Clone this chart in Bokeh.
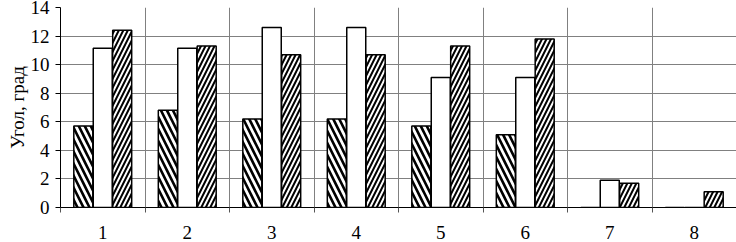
from bokeh.plotting import figure
from bokeh.models import FixedTicker, ColumnDataSource
from bokeh.transform import dodge
from bokeh.embed import file_html
from bokeh.resources import INLINE

categories = ["1", "2", "3", "4", "5", "6", "7", "8"]
series_a = [5.7, 6.8, 6.2, 6.2, 5.7, 5.1, 0, 0]
series_b = [11.15, 11.15, 12.6, 12.6, 9.1, 9.1, 1.9, 0]
series_c = [12.4, 11.3, 10.7, 10.7, 11.3, 11.8, 1.7, 1.1]
y_ticks = [0, 2, 4, 6, 8, 10, 12, 14]

xpos = [i + 1 for i in range(len(categories))]
src = ColumnDataSource(dict(x=xpos, a=series_a, b=series_b, c=series_c))

FONT = "Liberation Serif"
p = figure(width=736, height=242, output_backend="svg", toolbar_location=None,
           x_range=(0.5, len(categories) + 0.5), y_range=(0, 14))
p.min_border_left = 60
p.min_border_right = 0
p.min_border_top = 7
p.min_border_bottom = 35
p.outline_line_color = None
p.background_fill_color = "white"

W = 0.225
OFF = 0.23
p.vbar(x=dodge("x", -OFF), top="a", width=W, source=src, fill_color="white",
       line_color="black", line_width=1.5, hatch_pattern="\\", hatch_color="black",
       hatch_scale=12, hatch_weight=2.6)
p.vbar(x=dodge("x", 0), top="b", width=W, source=src, fill_color="white",
       line_color="black", line_width=1.5)
p.vbar(x=dodge("x", OFF), top="c", width=W, source=src, fill_color="white",
       line_color="black", line_width=1.5, hatch_pattern="/", hatch_color="black",
       hatch_scale=9, hatch_weight=2.0)

bounds = [i + 0.5 for i in range(len(categories) + 1)]
p.xaxis.ticker = FixedTicker(ticks=xpos, minor_ticks=bounds)
p.xaxis.major_label_overrides = {x: c for x, c in zip(xpos, categories)}
p.xaxis.major_tick_out = 0
p.xaxis.major_tick_in = 0
p.xaxis.minor_tick_out = 5
p.xaxis.minor_tick_in = 0
p.xaxis.minor_tick_line_color = "#555555"
p.xaxis.axis_line_color = "black"
p.xaxis.major_label_standoff = 13
p.xaxis.major_label_text_font = FONT
p.xaxis.major_label_text_font_size = "19px"
p.xaxis.major_label_text_color = "black"

p.yaxis.ticker = FixedTicker(ticks=y_ticks)
p.yaxis.minor_tick_line_color = None
p.yaxis.major_tick_out = 5
p.yaxis.major_tick_in = 0
p.yaxis.axis_line_color = "black"
p.yaxis.major_label_text_font = FONT
p.yaxis.major_label_text_font_size = "19px"
p.yaxis.major_label_text_color = "black"
p.yaxis.major_label_standoff = 6
p.yaxis.axis_label = "Угол, град"
p.yaxis.axis_label_text_font = FONT
p.yaxis.axis_label_text_font_size = "19px"
p.yaxis.axis_label_text_font_style = "normal"
p.yaxis.axis_label_text_color = "black"
p.yaxis.axis_label_standoff = 0

p.xgrid.grid_line_color = None
p.xgrid.minor_grid_line_color = "#808080"
p.xgrid.minor_grid_line_width = 1
p.ygrid.grid_line_color = "#808080"
p.ygrid.grid_line_width = 1

open("out.html", "w").write(file_html(p, INLINE))
